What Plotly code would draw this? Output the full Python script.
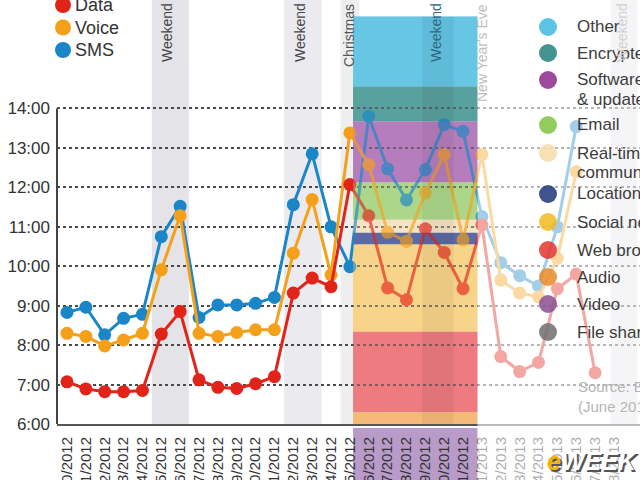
import plotly.graph_objects as go

# ---------------- data ----------------
dates = ["2012-12-10", "2012-12-11", "2012-12-12", "2012-12-13", "2012-12-14",
         "2012-12-15", "2012-12-16", "2012-12-17", "2012-12-18", "2012-12-19",
         "2012-12-20", "2012-12-21", "2012-12-22", "2012-12-23", "2012-12-24",
         "2012-12-25", "2012-12-26", "2012-12-27", "2012-12-28", "2012-12-29",
         "2012-12-30", "2012-12-31", "2013-01-01", "2013-01-02", "2013-01-03",
         "2013-01-04", "2013-01-05", "2013-01-06", "2013-01-07"]
tick_dates = dates + ["2013-01-08", "2013-01-09"]
tick_labels = ["12/10/2012", "12/11/2012", "12/12/2012", "12/13/2012", "12/14/2012",
               "12/15/2012", "12/16/2012", "12/17/2012", "12/18/2012", "12/19/2012",
               "12/20/2012", "12/21/2012", "12/22/2012", "12/23/2012", "12/24/2012",
               "12/25/2012", "12/26/2012", "12/27/2012", "12/28/2012", "12/29/2012",
               "12/30/2012", "12/31/2012", "1/1/2013", "1/2/2013", "1/3/2013",
               "1/4/2013", "1/5/2013", "1/6/2013", "1/7/2013", "1/8/2013", "1/9/2013"]

# peak hour (decimal hours)
data_hours = [7.07, 6.89, 6.82, 6.82, 6.85, 8.28, 8.85, 7.12, 6.93, 6.90, 7.02, 7.20,
              9.32, 9.70, 9.48, 12.07, 11.28, 9.45, 9.15, 10.95, 10.35, 9.43,
              11.05, 7.71, 7.33, 7.56, 9.43, 9.80, 7.30]
voice_hours = [8.30, 8.22, 7.98, 8.13, 8.30, 9.91, 11.28, 8.30, 8.22, 8.32, 8.39, 8.39,
               10.33, 11.69, 9.78, 13.38, 12.57, 10.86, 10.63, 11.86, 12.83, 10.67,
               12.83, 9.65, 9.32, 9.22, 10.20, 12.40, None]
sms_hours = [8.83, 8.96, 8.26, 8.68, 8.78, 10.75, 11.52, 8.70, 9.02, 9.02, 9.06, 9.21,
             11.56, 12.85, 11.00, 9.99, 13.80, 12.47, 11.68, 12.45, 13.59, 13.42,
             11.26, 10.09, 9.76, 9.50, 11.00, 13.54, None]

y_tick_vals = [6, 7, 8, 9, 10, 11, 12, 13, 14]
y_tick_labels = ["6:00", "7:00", "8:00", "9:00", "10:00", "11:00", "12:00", "13:00", "14:00"]

series_names = ["SMS", "Voice", "Data"]
series_values = [sms_hours, voice_hours, data_hours]
series_colors = ["#1a86c8", "#f5a01a", "#e2231a"]

legend_left_names = ["Data", "Voice", "SMS"]
legend_left_colors = ["#e2231a", "#f5a01a", "#1a86c8"]

app_names = ["Other", "Encrypted", "Software", "Email", "Real-time", "Location-based services",
             "Social networking", "Web browsing", "Audio", "Video", "File sharing"]
app_second_lines = {"Software": "& updates", "Real-time": "communication"}
app_colors = ["#3db8e2", "#24807b", "#8d2a8b", "#80c342", "#f7dca8", "#1f3578",
              "#f5b820", "#e5352f", "#e8892a", "#8a4f92", "#6e6e6e"]

# stacked share bands (hour-axis extents) and their colours
band_names = ["Other", "Encrypted", "Software", "Email", "Real-time", "Location",
              "Social networking", "Web browsing", "Audio"]
band_tops = [16.33, 14.56, 13.67, 12.12, 11.18, 10.85, 10.55, 8.34, 6.30]
band_bottoms = [14.56, 13.67, 12.12, 11.18, 10.85, 10.55, 8.34, 6.30, 5.90]
band_colors = ["#66c7e4", "#5aa19e", "#b67dbc", "#acd78a", "#f5e4c4", "#5b6ba6",
               "#f8d48a", "#ee7c80", "#f6ba78"]

# ---------------- layout helpers ----------------
W, H = 640, 480
L, B, T = 57, 56, 0
PW, PH = W - L, H - B - T
FONT = "Liberation Sans, Arial, sans-serif"


def pxx(x):
    return (x - L) / PW


def pxy(y):
    return 1 - (y - T) / PH


fig = go.Figure()

for name, vals, col in zip(series_names, series_values, series_colors):
    fig.add_trace(go.Scatter(
        x=dates, y=vals, name=name, mode="lines+markers",
        line=dict(color=col, width=3),
        marker=dict(color=col, size=13, line=dict(width=0)),
        connectgaps=False, showlegend=False))

shapes = []
# weekend / holiday bands
for x0, x1, c in [("2012-12-14 12:00", "2012-12-16 11:00", "#e4e4e8"),
                  ("2012-12-21 12:00", "2012-12-23 12:00", "#ebebef"),
                  ("2012-12-24 12:00", "2012-12-25 12:00", "#eeeeef"),
                  ("2013-01-07 20:00", "2013-01-09 06:00", "#e6e6ea")]:
    shapes.append(dict(type="rect", xref="x", yref="paper", x0=x0, x1=x1, y0=0, y1=1,
                       fillcolor=c, line=dict(width=0), layer="below"))

RX0, RX1 = "2012-12-25 04:00", "2012-12-31 18:30"
for top, bot, c in zip(band_tops, band_bottoms, band_colors):
    shapes.append(dict(type="rect", xref="x", yref="y", x0=RX0, x1=RX1, y0=bot, y1=top,
                       fillcolor=c, line=dict(width=0), layer="below"))
# video band under the axis
shapes.append(dict(type="rect", xref="x", yref="paper", x0=RX0, x1=RX1,
                   y0=pxy(480), y1=pxy(428), fillcolor="#b99bc9",
                   line=dict(width=0), layer="below"))
# tint on top of lines
for top, bot, c in zip(band_tops, band_bottoms, band_colors):
    shapes.append(dict(type="rect", xref="x", yref="y", x0=RX0, x1=RX1, y0=bot, y1=top,
                       fillcolor=c, opacity=0.35, line=dict(width=0), layer="above"))
shapes.append(dict(type="rect", xref="x", yref="y", x0="2012-12-28 20:00", x1="2012-12-30 12:00",
                   y0=5.9, y1=16.33, fillcolor="#000000", opacity=0.05,
                   line=dict(width=0), layer="above"))
# y-axis line
shapes.append(dict(type="line", xref="paper", yref="y", x0=0, x1=0, y0=6, y1=14,
                   line=dict(color="#444444", width=2), layer="above"))
# fade on the right
shapes.append(dict(type="rect", xref="x", yref="paper", x0=RX1, x1="2013-01-10",
                   y0=-0.2, y1=1.0, fillcolor="white", opacity=0.6,
                   line=dict(width=0), layer="above"))

annotations = []
# top-left legend
for i, (n, c) in enumerate(zip(legend_left_names, legend_left_colors)):
    cy = 5 + 22.5 * i
    shapes.append(dict(type="circle", xref="paper", yref="paper",
                       xsizemode="pixel", ysizemode="pixel",
                       xanchor=pxx(63), yanchor=pxy(cy), x0=-8, x1=8, y0=-8, y1=8,
                       fillcolor=c, line=dict(width=0), layer="above"))
    annotations.append(dict(xref="paper", yref="paper", x=pxx(73), y=pxy(cy),
                            xanchor="left", yanchor="middle", text=n, showarrow=False,
                            font=dict(family=FONT, size=18, color="#333333")))

# right legend
app_y = [27, 53, 80, 125, 153, 194, 222, 250, 277, 304, 332]
for n, c, cy in zip(app_names, app_colors, app_y):
    shapes.append(dict(type="circle", xref="paper", yref="paper",
                       xsizemode="pixel", ysizemode="pixel",
                       xanchor=pxx(548), yanchor=pxy(cy), x0=-9, x1=9, y0=-9, y1=9,
                       fillcolor=c, opacity=0.85, line=dict(width=0), layer="above"))
    annotations.append(dict(xref="paper", yref="paper", x=pxx(575), y=pxy(cy),
                            xanchor="left", yanchor="middle", text=n, showarrow=False,
                            font=dict(family=FONT, size=17, color="#3c3c3c")))
    if n in app_second_lines:
        annotations.append(dict(xref="paper", yref="paper", x=pxx(575), y=pxy(cy + 19),
                                xanchor="left", yanchor="middle", text=app_second_lines[n],
                                showarrow=False,
                                font=dict(family=FONT, size=17, color="#3c3c3c")))

annotations.append(dict(xref="paper", yref="paper", x=pxx(576), y=pxy(386),
                        xanchor="left", yanchor="middle", text="Source: Ericsson Mobility Report",
                        showarrow=False, font=dict(family=FONT, size=15, color="#b5b5b5")))
annotations.append(dict(xref="paper", yref="paper", x=pxx(576), y=pxy(406),
                        xanchor="left", yanchor="middle", text="(June 2013)",
                        showarrow=False, font=dict(family=FONT, size=15, color="#b5b5b5")))

# event labels
for txt, x, cy, col in [("Weekend", 167, 33, "#444444"), ("Weekend", 300, 33, "#444444"),
                        ("Christmas", 349, 36, "#555555"), ("Weekend", 436, 33, "#2f6580"),
                        ("New Year's Eve", 482, 53, "#bdbdbd"), ("Weekend", 622, 33, "#d0d0d0")]:
    annotations.append(dict(xref="paper", yref="paper", x=pxx(x), y=pxy(cy),
                            xanchor="center", yanchor="middle", text=txt, textangle=-90,
                            showarrow=False, font=dict(family=FONT, size=14, color=col)))

# eWEEK logo
logo = "<b><i><span style='color:%s'>e</span>WEEK</i></b>"
annotations.append(dict(xref="paper", yref="paper", x=pxx(594), y=pxy(463),
                        xanchor="center", yanchor="middle", text=logo % "#555555",
                        showarrow=False, font=dict(family=FONT, size=25, color="#555555")))
annotations.append(dict(xref="paper", yref="paper", x=pxx(592), y=pxy(461),
                        xanchor="center", yanchor="middle", text=logo % "#f2b400",
                        showarrow=False, font=dict(family=FONT, size=25, color="#ffffff")))

fig.update_layout(
    width=W, height=H,
    margin=dict(l=L, r=0, t=T, b=B, pad=0),
    paper_bgcolor="white", plot_bgcolor="rgba(0,0,0,0)",
    showlegend=False,
    shapes=shapes, annotations=annotations,
    xaxis=dict(type="date", range=["2012-12-09 11:17", "2013-01-09 09:10"],
               tickvals=tick_dates, ticktext=tick_labels, tickangle=-90,
               showgrid=False, zeroline=False, showline=True, linecolor="#555555",
               linewidth=2, ticks="", automargin=False, ticklabelstandoff=5,
               tickfont=dict(family=FONT, size=15, color="#333333")),
    yaxis=dict(range=[6, 16.75], tickvals=y_tick_vals, ticktext=y_tick_labels,
               showgrid=True, gridcolor="#4a4a4a", gridwidth=2, griddash="dot",
               zeroline=False, showline=False, ticks="", automargin=False,
               ticklabelstandoff=6,
               tickfont=dict(family=FONT, size=17, color="#333333")),
)

fig.write_html("out.html")
